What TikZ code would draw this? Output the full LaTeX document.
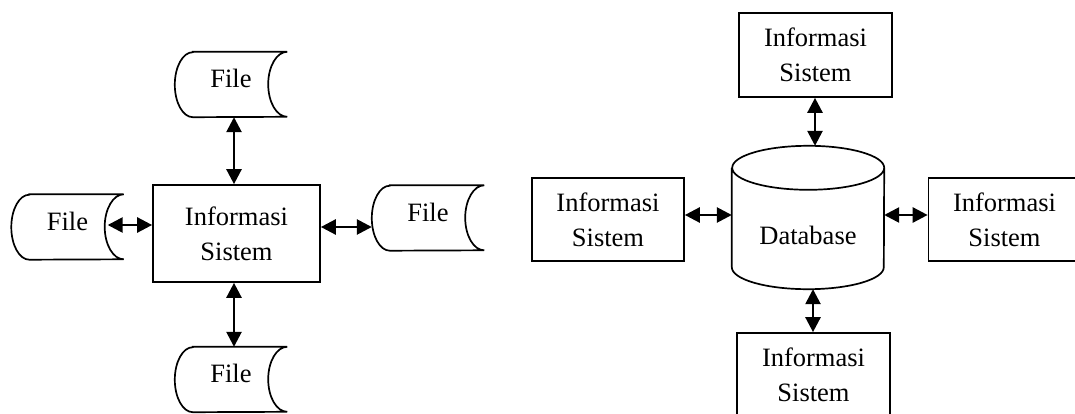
\documentclass[tikz,border=0pt]{standalone}
\usepackage{fontspec}
\setmainfont{Liberation Serif}
\usetikzlibrary{arrows.meta,calc}
\tikzset{
  every node/.style={font=\fontsize{26.5}{35}\selectfont, align=center, inner sep=0pt},
  sysbox/.style={draw, line width=1.7pt, minimum width=153pt, minimum height=84pt},
  bigbox/.style={draw, line width=1.7pt, minimum width=167pt, minimum height=97pt},
  filebox/.style={minimum width=112pt, minimum height=65pt, text height=18pt, text depth=12pt},
  shapeline/.style={line width=1.7pt},
  biarrow/.style={line width=2.6pt, {Triangle[length=15pt,width=15pt]}-{Triangle[length=15pt,width=15pt]}}
}
\newcommand\filedraw[1]{%
  \draw[shapeline] ($(#1.north west)+(18,0)$) -- (#1.north east)
    arc[start angle=90,end angle=270,x radius=19,y radius=32.5]
    -- ($(#1.south west)+(18,0)$)
    arc[start angle=270,end angle=90,x radius=18,y radius=32.5] -- cycle;}
\begin{document}
\begin{tikzpicture}[x=1pt,y=1pt]
\useasboundingbox (0,0) rectangle (1075,413);
\clip (0,0) rectangle (1075,413);
% ---------- left diagram ----------
\node[bigbox] (sysL) at (236.5,179.5) {Informasi\\Sistem};
\node[filebox] (fT) at (231,328.5) {File};
\node[filebox] (fL) at (67.5,186) {File};
\node[filebox] (fR) at (428,195) {File};
\node[filebox] (fB) at (231,33.5) {File};
\filedraw{fT}
\filedraw{fL}
\filedraw{fR}
\filedraw{fB}
\coordinate (xL) at (234,0);
\coordinate (yLl) at (0,188);
\coordinate (yLr) at (0,186);
\draw[biarrow] (fT.south -| xL) -- (sysL.north -| xL);
\draw[biarrow] (sysL.south -| xL) -- (fB.north -| xL);
\draw[biarrow] ($(fL.east |- yLl)+(-16,0)$) -- (sysL.west |- yLl);
\draw[biarrow] (sysL.east |- yLr) -- (fR.west |- yLr);
% ---------- right diagram ----------
\node[sysbox] (sysT) at (815.5,358) {Informasi\\Sistem};
\node[sysbox, minimum width=152pt, minimum height=83pt] (sysW) at (608,193.5) {Informasi\\Sistem};
\node[sysbox, minimum width=152pt, minimum height=83pt] (sysE) at (1004.5,193.5) {Informasi\\Sistem};
\node[sysbox] (sysB) at (813.5,38) {Informasi\\Sistem};
\node[minimum width=152pt, minimum height=143pt] (db) at (808,195.5) {};
\draw[shapeline] ($(db.north west)+(0,-22)$) -- ($(db.south west)+(0,22)$)
  arc[start angle=180,end angle=360,x radius=76,y radius=22]
  -- ($(db.north east)+(0,-22)$)
  arc[start angle=0,end angle=180,x radius=76,y radius=22]
  arc[start angle=180,end angle=360,x radius=76,y radius=22];
\node (dbt) at (808,177.5) {Database};
\coordinate (xT) at (815,0);
\coordinate (xB) at (813,0);
\coordinate (yR) at (0,198);
\draw[biarrow] (sysT.south -| xT) -- (db.north -| xT);
\draw[biarrow] (db.south -| xB) -- (sysB.north -| xB);
\draw[biarrow] (sysW.east |- yR) -- (db.west |- yR);
\draw[biarrow] (db.east |- yR) -- (sysE.west |- yR);
\end{tikzpicture}
\end{document}
